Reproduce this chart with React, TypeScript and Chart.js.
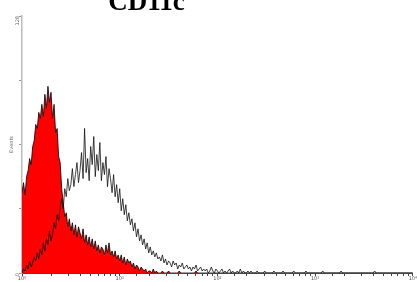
import React, { useEffect, useRef } from "react";
import { Chart, registerables } from "chart.js";

Chart.register(...registerables);

const TITLE = "CD11c";
const Y_TITLE = "Events";
const X_MIN = 1;
const X_MAX = 10000;
const Y_MAX = 128;
const Y_STEP = 32;
const CHANNELS_PER_DECADE = 64;
const X_TICK_LABELS: Record<string, string> = { "1": "10⁰", "10": "10¹", "100": "10²", "1000": "10³", "10000": "10⁴" };
const Y_TICK_LABELS: Record<string, string> = { "0": "0", "128": "128" };

// isotype control (red, filled) — counts per channel, 64 channels per decade
const isotypeCounts = [
  40, 45, 39, 48, 51, 57, 54, 63, 66, 74, 72, 80, 77, 84, 78, 89, 82, 93, 85, 90, 77, 84, 70, 72, 58, 55, 42, 35, 28, 30,
  23, 27, 21, 25, 19, 24, 18, 23, 20, 17, 22, 15, 19, 14, 18, 13, 17, 12, 16, 11, 14, 10, 13, 12, 9, 14, 10, 15, 9, 11,
  8, 11, 7, 9, 6, 9, 5, 8, 4, 7, 5, 6, 3, 5, 2, 4, 3, 1, 3, 2, 1, 2, 0, 1, 1, 0, 2, 0, 1, 0,
  0, 0, 1, 0, 0, 0, 1, 0, 0, 0, 0, 0, 0, 1, 0, 0, 0, 0, 0, 0, 0, 0, 0, 0, 1, 0, 0, 0, 0, 0,
  0, 0, 0, 0, 0, 0, 0, 0, 0, 0, 0, 0, 0, 0, 0, 0, 0, 0, 0, 0, 0, 0, 0, 0, 0, 0, 0, 0, 0, 0,
  0, 0, 0, 0, 0, 0, 0, 0, 0, 0, 0, 0, 0, 0, 0, 0, 0, 0, 0, 0, 0, 0, 0, 0, 0, 0, 0, 0, 0, 0,
  0, 0, 0, 0, 0, 0, 0, 0, 0, 0, 0, 0, 0, 0, 0, 0, 0, 0, 0, 0, 0, 0, 0, 0, 0, 0, 0, 0, 0, 0,
  0, 0, 0, 0, 0, 0, 0, 0, 0, 0, 0, 0, 0, 0, 0, 0, 0, 0, 0, 0, 0, 0, 0, 0, 0, 0, 0, 0, 0, 0,
  0, 0, 0, 0, 0, 0, 0, 0, 0, 0, 0, 0, 0, 0, 0, 0, 0,
];

// stained sample (black outline, unfilled)
const stainedCounts = [
  0, 2, 1, 4, 2, 6, 3, 5, 8, 6, 10, 7, 12, 9, 15, 11, 17, 14, 21, 16, 19, 25, 22, 29, 26, 33, 37, 32, 42, 38,
  47, 41, 44, 52, 43, 49, 55, 45, 51, 60, 47, 72, 50, 57, 46, 63, 54, 68, 48, 59, 51, 65, 46, 55, 49, 58, 43, 52, 47, 40,
  49, 38, 44, 35, 42, 31, 37, 29, 34, 26, 30, 24, 27, 21, 25, 18, 22, 16, 19, 14, 17, 12, 15, 10, 13, 9, 11, 8, 10, 7,
  8, 6, 9, 5, 7, 4, 6, 5, 3, 6, 4, 5, 2, 4, 3, 5, 2, 3, 4, 2, 3, 1, 3, 2, 4, 1, 2, 3, 1, 2,
  1, 2, 0, 1, 3, 1, 0, 2, 1, 0, 1, 2, 0, 1, 0, 1, 2, 0, 1, 0, 0, 1, 0, 2, 0, 1, 0, 0, 1, 0,
  1, 0, 0, 0, 1, 0, 0, 0, 0, 1, 0, 0, 0, 0, 0, 1, 0, 0, 0, 0, 0, 1, 0, 0, 0, 0, 0, 0, 1, 0,
  0, 0, 0, 0, 0, 0, 1, 0, 0, 0, 0, 0, 0, 0, 0, 0, 0, 1, 0, 0, 0, 0, 0, 0, 0, 0, 0, 0, 0, 1,
  0, 0, 0, 0, 0, 0, 0, 0, 0, 0, 0, 0, 0, 0, 0, 0, 0, 0, 0, 0, 0, 1, 0, 0, 0, 0, 0, 0, 0, 0,
  0, 0, 0, 0, 0, 0, 0, 0, 0, 0, 0, 0, 0, 0, 0, 0, 0,
];

const toPoints = (counts: number[]) =>
  counts.map((c, i) => ({ x: Math.pow(10, i / CHANNELS_PER_DECADE), y: c }));

const titlePlugin = {
  id: "fixedTitle",
  afterDraw(chart: any) {
    const ctx = chart.ctx;
    ctx.save();
    ctx.font = "bold 27px 'Liberation Serif', 'Times New Roman', serif";
    ctx.fillStyle = "#000";
    ctx.textAlign = "center";
    ctx.textBaseline = "alphabetic";
    ctx.fillText(TITLE, 146.5, 9.5);
    ctx.restore();
  },
};

export default function App() {
  const ref = useRef<HTMLCanvasElement | null>(null);
  useEffect(() => {
    document.body.style.margin = "0";
    if (!ref.current) return;
    const chart = new Chart(ref.current, {
      type: "line",
      data: {
        datasets: [
          {
            label: "stained",
            data: toPoints(stainedCounts),
            borderColor: "#111",
            borderWidth: 0.8,
            fill: false,
            pointRadius: 0,
            tension: 0,
            order: 1,
          },
          {
            label: "isotype",
            data: toPoints(isotypeCounts),
            borderColor: "#000",
            borderWidth: 0.8,
            backgroundColor: "#ff0000",
            fill: "origin",
            pointRadius: 0,
            tension: 0,
            order: 2,
          },
        ],
      },
      options: {
        animation: false,
        responsive: false,
        devicePixelRatio: 1,
        layout: { padding: { top: 16, right: 4, left: 0, bottom: 0 } },
        plugins: { legend: { display: false }, tooltip: { enabled: false }, title: { display: false } },
        scales: {
          x: {
            type: "logarithmic",
            min: X_MIN,
            max: X_MAX,
            afterFit: (s: any) => { s.height = 9; },
            grid: { display: true, drawOnChartArea: false, drawTicks: true, tickLength: 3, color: "#444" },
            border: { display: true, color: "#444", width: 1 },
            ticks: {
              autoSkip: false,
              maxRotation: 0,
              minRotation: 0,
              padding: 0,
              color: "#555",
              font: { size: 5, family: "'DejaVu Sans', sans-serif" },
              callback: (v: any) => X_TICK_LABELS[String(v)] ?? "",
            },
          },
          y: {
            min: 0,
            max: Y_MAX,
            afterFit: (s: any) => { s.width = 22; },
            grid: { display: true, drawOnChartArea: false, drawTicks: true, tickLength: 3, color: "#999" },
            border: { display: true, color: "#bbb", width: 1.5 },
            title: { display: true, text: Y_TITLE, color: "#666", font: { size: 5, family: "'DejaVu Sans', sans-serif" }, padding: { top: 9, bottom: 0 } },
            ticks: {
              stepSize: Y_STEP,
              minRotation: 90,
              maxRotation: 90,
              padding: 1,
              color: "#666",
              font: { size: 5, family: "'DejaVu Sans', sans-serif" },
              callback: (v: any) => Y_TICK_LABELS[String(v)] ?? "",
            },
          },
        },
      },
      plugins: [titlePlugin],
    } as any);
    return () => chart.destroy();
  }, []);
  return (
    <div style={{ width: 417, height: 282, position: "relative", background: "#fff" }}>
      <canvas ref={ref} width={417} height={282} />
    </div>
  );
}
